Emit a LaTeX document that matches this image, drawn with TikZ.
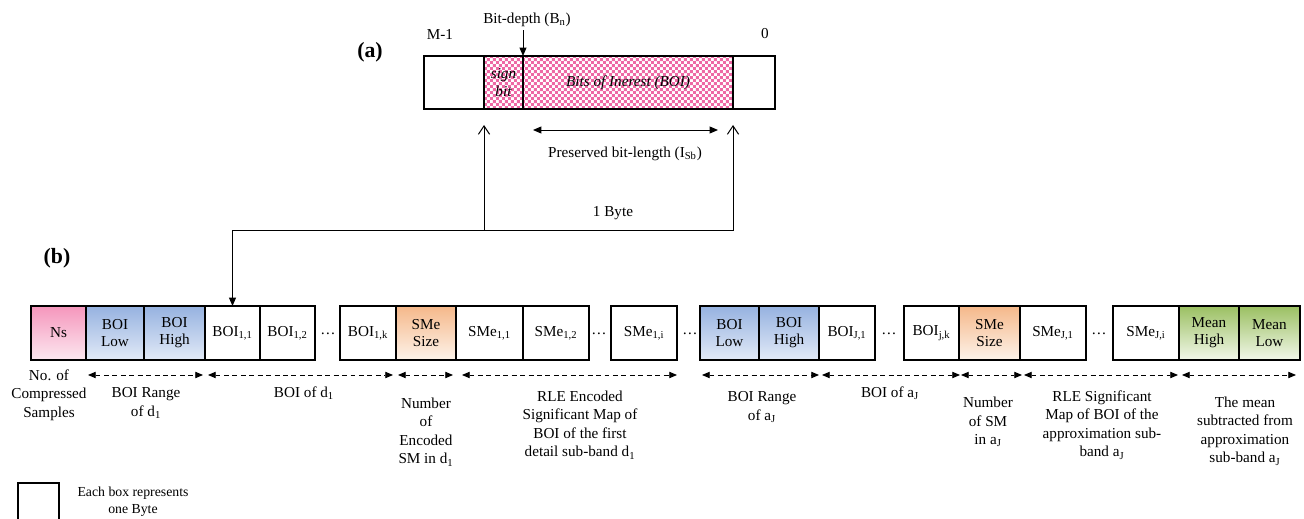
\documentclass[tikz,border=0pt]{standalone}
\usepackage{fontspec}
\setmainfont{Liberation Serif}
\usetikzlibrary{arrows.meta,patterns}

\definecolor{nspink}{RGB}{245,150,188}
\definecolor{nspinklt}{RGB}{252,232,240}
\definecolor{boiblue}{RGB}{150,178,224}
\definecolor{boibluelt}{RGB}{226,234,247}
\definecolor{smeorange}{RGB}{245,184,138}
\definecolor{smeorangelt}{RGB}{253,243,234}
\definecolor{meangreen}{RGB}{155,192,98}
\definecolor{meangreenlt}{RGB}{242,247,234}
\definecolor{checkpink}{RGB}{238,105,165}

% small checks for the bits of interest
\pgfdeclarepatternformonly{finechecker}{\pgfpointorigin}{\pgfqpoint{4.2pt}{4.2pt}}{\pgfqpoint{4.2pt}{4.2pt}}{%
  \pgfpathrectangle{\pgfpointorigin}{\pgfqpoint{2.1pt}{2.1pt}}%
  \pgfpathrectangle{\pgfqpoint{2.1pt}{2.1pt}}{\pgfqpoint{2.1pt}{2.1pt}}%
  \pgfusepath{fill}}

\tikzset{
  byte/.style={draw, line width=0.8pt, outer sep=0pt, inner sep=0pt, minimum height=54*\px, align=center, font=\fontsize{10.8}{12.2}\selectfont},
  nsbyte/.style={byte, top color=nspink, bottom color=nspinklt},
  rangebyte/.style={byte, top color=boiblue, bottom color=boibluelt},
  sizebyte/.style={byte, top color=smeorange, bottom color=smeorangelt},
  meanbyte/.style={byte, top color=meangreen, bottom color=meangreenlt},
  bitfield/.style={byte, pattern=finechecker, pattern color=checkpink, minimum height=53*\px, font=\fontsize{10.8}{12.2}\selectfont\itshape},
  note/.style={align=center, inner sep=0pt, font=\fontsize{10.8}{13.2}\selectfont},
  tag/.style={inner sep=0pt, font=\fontsize{15.5}{18}\selectfont\bfseries},
  span/.style={dashed, dash pattern=on 3.5pt off 2.5pt, line width=0.6pt, {Triangle[length=5.5pt,width=4.5pt]}-{Triangle[length=5.5pt,width=4.5pt]}}
}

\begin{document}
\begin{tikzpicture}[x=0.025cm, y=-0.025cm]
% one unit is one pixel of the reference
\def\px{0.025cm}
\useasboundingbox (0,0) rectangle (1304,519);

% (a) one byte of a coefficient
\node[tag] (taga) at (370,52) {(a)};
\node[byte, minimum width=351*\px, minimum height=53*\px] (word) at (599.5,82.5) {};
\node[bitfield, minimum width=39*\px] (sign) at (503.5,82.5) {sign\\bit};
\node[bitfield, minimum width=210*\px] (boi) at (628,82.5) {Bits of Inerest (BOI)};
\node[note] (msb) at (440,34) {M-1};
\node[note] (lsb) at (765,34) {0};
\node[note] (depth) at (527,20) {Bit-depth (B\textsubscript{n})};
\draw[line width=0.7pt, -{Triangle[length=6pt,width=5pt]}] ([yshift=-3*\px]sign.north east |- depth.south) -- (sign.north east);
\draw[line width=0.7pt, {Triangle[length=6pt,width=5pt]}-{Triangle[length=6pt,width=5pt]}] ([shift={(10,21)}]boi.south west) -- ([shift={(-15,21)}]boi.south east);
\node[note] (keep) at (625,154) {Preserved bit-length (I\textsubscript{Sb})};

% the byte goes into the stream
\coordinate (join) at (484,230);
\node[note] (onebyte) at (613,213) {1 Byte};

% (b) the compressed stream
\node[tag] (tagb) at (57,258) {(b)};
\node[nsbyte, minimum width=55*\px] (ns) at (58.5,333) {Ns};
\node[rangebyte, minimum width=58*\px] (lo1) at (115,333) {BOI\\Low};
\node[rangebyte, minimum width=61*\px] (hi1) at (174.5,333) {BOI\\High};
\node[byte, minimum width=55*\px] (b11) at (232.5,333) {BOI\textsubscript{1,1}};
\node[byte, minimum width=55*\px] (b12) at (287.5,333) {BOI\textsubscript{1,2}};
\node[note] (dots1) at (328,334) {\dots};
\node[byte, minimum width=56*\px] (b1k) at (368,333) {BOI\textsubscript{1,k}};
\node[sizebyte, minimum width=60*\px] (sz1) at (426,333) {SMe\\Size};
\node[byte, minimum width=67*\px] (s11) at (489.5,333) {SMe\textsubscript{1,1}};
\node[byte, minimum width=66*\px] (s12) at (556,333) {SMe\textsubscript{1,2}};
\node[note] (dots2) at (599,334) {\dots};
\node[byte, minimum width=66*\px] (s1i) at (644,333) {SMe\textsubscript{1,i}};
\node[note] (dots3) at (690,334) {\dots};
\node[rangebyte, minimum width=59*\px] (loJ) at (729.5,333) {BOI\\Low};
\node[rangebyte, minimum width=60*\px] (hiJ) at (789,333) {BOI\\High};
\node[byte, minimum width=56*\px] (bJ1) at (847,333) {BOI\textsubscript{J,1}};
\node[note] (dots4) at (889,334) {\dots};
\node[byte, minimum width=55*\px] (bJk) at (931.5,333) {BOI\textsubscript{j,k}};
\node[sizebyte, minimum width=61*\px] (szJ) at (989.5,333) {SMe\\Size};
\node[byte, minimum width=66*\px] (sJ1) at (1053,333) {SMe\textsubscript{J,1}};
\node[note] (dots5) at (1099,334) {\dots};
\node[byte, minimum width=66*\px] (sJi) at (1146,333) {SMe\textsubscript{J,i}};
\node[meanbyte, minimum width=60*\px] (mhi) at (1209,333) {Mean\\High};
\node[meanbyte, minimum width=61*\px] (mlo) at (1269.5,333) {Mean\\Low};

% link from (a) down to the first BOI byte
\draw[line width=0.7pt, {Straight Barb[length=6pt,width=8pt]}-{Triangle[length=6pt,width=5pt]}] ([shift={(0,16)}]sign.south west) |- (b11.north |- join) -- (b11.north);
\draw[line width=0.7pt, {Straight Barb[length=6pt,width=8pt]}-] ([shift={(0,16)}]boi.south east) |- (join);

% what each group of bytes holds
\draw[span] ([shift={(2,15)}]lo1.south west) -- ([shift={(-2,15)}]hi1.south east);
\draw[span] ([shift={(3,15)}]b11.south west) -- ([shift={(-3,15)}]b1k.south east);
\draw[span] ([shift={(2,15)}]sz1.south west) -- ([shift={(-3,15)}]sz1.south east);
\draw[span] ([shift={(6,15)}]s11.south west) -- ([shift={(0,15)}]s1i.south east);
\draw[span] ([shift={(2,15)}]loJ.south west) -- ([shift={(0,15)}]hiJ.south east);
\draw[span] ([shift={(3,15)}]bJ1.south west) -- ([shift={(1,15)}]bJk.south east);
\draw[span] ([shift={(2,15)}]szJ.south west) -- ([shift={(2,15)}]szJ.south east);
\draw[span] ([shift={(4,15)}]sJ1.south west) -- ([shift={(-1,15)}]sJi.south east);
\draw[span] ([shift={(3,15)}]mhi.south west) -- ([shift={(-4,15)}]mlo.south east);

\node[note] (nsnote) at (49,395) {No. of\\Compressed\\Samples};
\node[note] (range1note) at (146,403) {BOI Range\\of d\textsubscript{1}};
\node[note] (boi1note) at (304,393) {BOI of d\textsubscript{1}};
\node[note] (size1note) at (426,432) {Number\\of\\Encoded\\SM in d\textsubscript{1}};
\node[note] (sme1note) at (580,425) {RLE Encoded\\Significant Map of\\BOI of the first\\detail sub-band d\textsubscript{1}};
\node[note] (rangeJnote) at (762,407) {BOI Range\\of a\textsubscript{J}};
\node[note] (boiJnote) at (890,393) {BOI of a\textsubscript{J}};
\node[note] (sizeJnote) at (988,422) {Number\\of SM\\in a\textsubscript{J}};
\node[note] (smeJnote) at (1102,425) {RLE Significant\\Map of BOI of the\\approximation sub-\\band a\textsubscript{J}};
\node[note] (meannote) at (1245,431) {The mean\\subtracted from\\approximation\\sub-band a\textsubscript{J}};

% legend
\node[byte, minimum width=41*\px] (legend) at (38.5,510) {};
\node[note, font=\fontsize{9.8}{12}\selectfont] (legendnote) at (133,502) {Each box represents\\one Byte};
\end{tikzpicture}
\end{document}
